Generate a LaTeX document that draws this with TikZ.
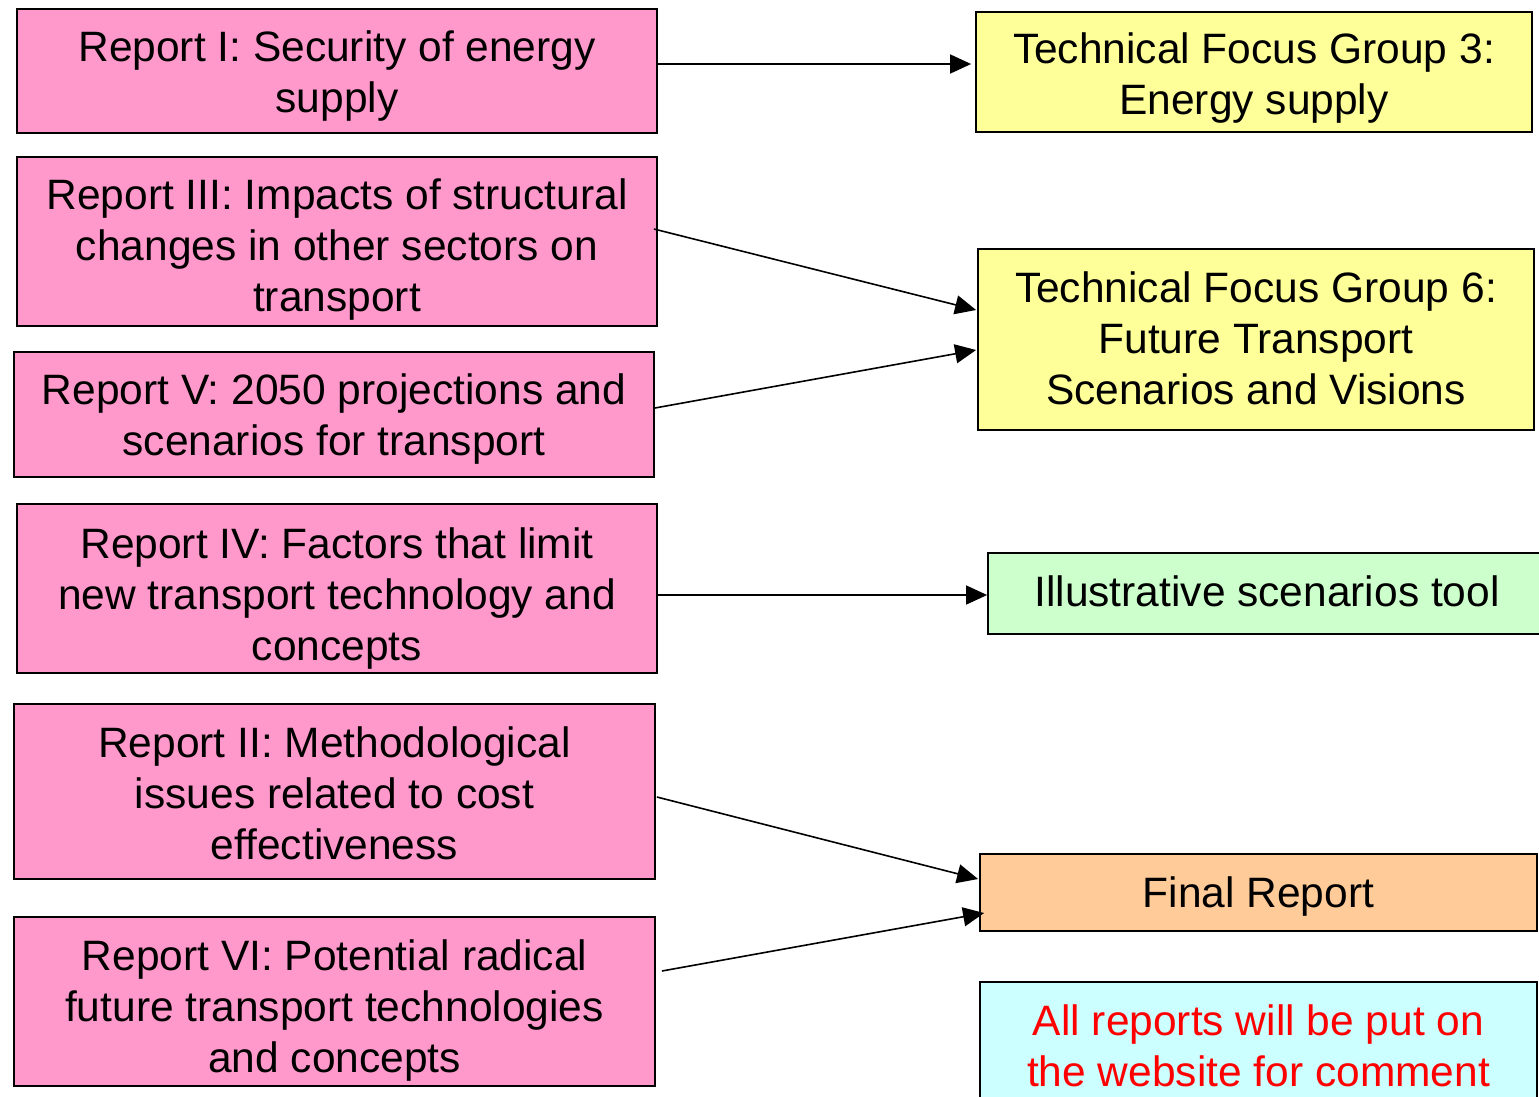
\documentclass[tikz,border=0pt]{standalone}
\usepackage{fontspec}
\setmainfont{Liberation Sans}
\usetikzlibrary{arrows.meta}
\definecolor{pinkbox}{HTML}{FF99CC}
\definecolor{yellowbox}{HTML}{FFFF99}
\definecolor{greenbox}{HTML}{CCFFCC}
\definecolor{orangebox}{HTML}{FFCC99}
\definecolor{cyanbox}{HTML}{CCFFFF}
\tikzset{
  box/.style={draw=black, line width=1.8pt, inner sep=0pt},
  lbl/.style={align=center, inner sep=0pt, font=\fontsize{42.5}{51}\selectfont},
  report/.style={box, fill=pinkbox},
  conn/.style={line width=1.6pt, -{Triangle[length=21pt,width=19pt]}}
}
\begin{document}
\begin{tikzpicture}[x=1pt,y=-1pt]
\useasboundingbox (0,0) rectangle (1539,1096);
\clip (0,0) rectangle (1539,1096);
\fill[white] (0,0) rectangle (1539,1096);
% left reports
\node[report, minimum width=640pt, minimum height=124pt,
  label={[lbl,yshift=-5pt]center:{Report I: Security of energy\\supply}}] (r1) at (337,71) {};
\node[report, minimum width=640pt, minimum height=169pt,
  label={[lbl,yshift=-8pt]center:{Report III: Impacts of structural\\changes in other sectors on\\transport}}] (r3) at (337,241.5) {};
\node[report, minimum width=640pt, minimum height=125pt,
  label={[lbl,yshift=-5pt]center:{Report V: 2050 projections and\\scenarios for transport}}] (r5) at (334,414.5) {};
\node[report, minimum width=640pt, minimum height=169pt,
  label={[lbl,yshift=-10pt]center:{Report IV: Factors that limit\\new transport technology and\\concepts}}] (r4) at (337,588.5) {};
\node[report, minimum width=641pt, minimum height=175pt,
  label={[lbl,yshift=-2pt]center:{Report II: Methodological\\issues related to cost\\effectiveness}}] (r2) at (334.5,791.5) {};
\node[report, minimum width=641pt, minimum height=169pt,
  label={[lbl,yshift=-9pt]center:{Report VI: Potential radical\\future transport technologies\\and concepts}}] (r6) at (334.5,1001.5) {};
% right boxes
\node[box, fill=yellowbox, minimum width=556pt, minimum height=120pt,
  label={[lbl,yshift=-6.5pt]center:{Technical Focus Group 3:\\Energy supply}}] (tfg3) at (1254,72) {};
\node[box, fill=yellowbox, minimum width=556pt, minimum height=181pt,
  label={[lbl,yshift=1pt]center:{Technical Focus Group 6:\\Future Transport\\Scenarios and Visions}}] (tfg6) at (1256,339.5) {};
\node[box, fill=greenbox, minimum width=558pt, minimum height=81pt,
  label={[lbl,yshift=2pt]center:{Illustrative scenarios tool}}] (tool) at (1267,593.5) {};
\node[box, fill=orangebox, minimum width=557pt, minimum height=77pt,
  label={[lbl,yshift=-4pt]center:{Final Report}}] (final) at (1258.5,892.5) {};
\node[box, fill=cyanbox, minimum width=557pt, minimum height=136pt,
  label={[lbl,text=red,yshift=4pt]center:{All reports will be put on\\the website for comment}}] (web) at (1258.5,1050) {};
% connectors
\draw[conn] ([yshift=7pt]r1.east) -- ([xshift=-4pt,yshift=8pt]tfg3.west);
\draw[conn] ([xshift=-4pt,yshift=12.5pt]r3.east) -- ([xshift=-1pt,yshift=29.5pt]tfg6.west);
\draw[conn] ([yshift=6.5pt]r5.east) -- ([xshift=-1pt,yshift=-10.5pt]tfg6.west);
\draw[conn] ([yshift=-6.5pt]r4.east) -- ([yshift=-1.5pt]tool.west);
\draw[conn] ([xshift=1pt,yshift=-5.5pt]r2.east) -- ([xshift=-1pt,yshift=13.5pt]final.west);
\draw[conn] ([xshift=6pt,yshift=30.5pt]r6.east) -- ([xshift=5pt,yshift=-20.5pt]final.west);
\end{tikzpicture}
\end{document}
